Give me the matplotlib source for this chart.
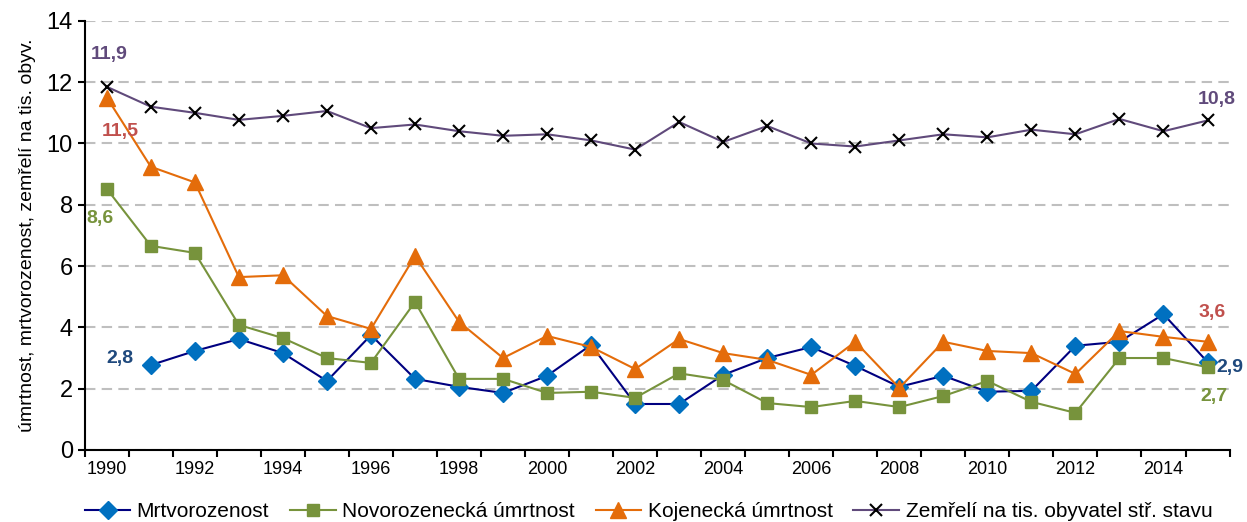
import matplotlib.pyplot as plt
from matplotlib.ticker import FixedLocator, NullFormatter

plt.rcParams['font.family'] = ['Liberation Sans', 'DejaVu Sans']

# Data
years = list(range(1990, 2016))
mrtvorozenost = [None, 2.77, 3.23, 3.62, 3.16, 2.25, 3.75, 2.32, 2.06, 1.86, 2.42, 3.43, 1.5,
                 1.5, 2.45, 3.0, 3.36, 2.74, 2.06, 2.42, 1.9, 1.93, 3.4, 3.53, 4.43, 2.87]
novorozenecka = [8.52, 6.66, 6.43, 4.08, 3.65, 3.0, 2.84, 4.83, 2.32, 2.32, 1.86, 1.9, 1.7,
                 2.5, 2.28, 1.53, 1.4, 1.6, 1.4, 1.76, 2.25, 1.57, 1.21, 3.0, 3.0, 2.7]
kojenecka = [11.5, 9.24, 8.73, 5.64, 5.7, 4.37, 3.95, 6.33, 4.18, 3.0, 3.72, 3.36, 2.64,
             3.62, 3.16, 2.94, 2.45, 3.53, 2.02, 3.53, 3.23, 3.16, 2.48, 3.88, 3.69, 3.53]
zemreli = [11.85, 11.2, 11.0, 10.77, 10.9, 11.06, 10.5, 10.62, 10.4, 10.25, 10.3, 10.1, 9.8,
           10.7, 10.05, 10.57, 10.0, 9.9, 10.1, 10.3, 10.2, 10.45, 10.3, 10.8, 10.4, 10.75]

x = list(range(len(years)))
mx = [i for i, v in zip(x, mrtvorozenost) if v is not None]
my = [v for v in mrtvorozenost if v is not None]

fig = plt.figure(figsize=(12.47, 5.22), dpi=100)
ax = fig.add_axes([0.068, 0.138, 0.918, 0.822])

ax.plot(mx, my, color='#000080', lw=1.5, marker='D', ms=9,
        mfc='#0070C0', mec='#0070C0', label='Mrtvorozenost', zorder=3)
ax.plot(x, novorozenecka, color='#77933C', lw=1.5, marker='s', ms=8,
        mfc='#77933C', mec='#77933C', label='Novorozenecká úmrtnost', zorder=3)
ax.plot(x, kojenecka, color='#E46C0A', lw=1.5, marker='^', ms=11,
        mfc='#E46C0A', mec='#E46C0A', label='Kojenecká úmrtnost', zorder=3)
ax.plot(x, zemreli, color='#604A7B', lw=1.5, marker='x', ms=9, mew=1.5,
        mec='black', label='Zemřelí na tis. obyvatel stř. stavu', zorder=3)

# value labels
lab = dict(fontsize=14, fontweight='bold', ha='center', va='center')
ax.text(0.05, 12.9, '11,9', color='#604A7B', **lab)
ax.text(0.3, 10.4, '11,5', color='#C0504D', **lab)
ax.text(-0.15, 7.55, '8,6', color='#77933C', **lab)
ax.text(0.3, 3.0, '2,8', color='#1F497D', **lab)
ax.text(25.2, 11.45, '10,8', color='#604A7B', **lab)
ax.text(25.1, 4.47, '3,6', color='#C0504D', **lab)
ax.text(25.5, 2.7, '2,9', color='#1F497D', **lab)
ax.text(25.15, 1.76, '2,7', color='#77933C', **lab)

ax.set_xlim(-0.5, len(years) - 0.5)
ax.set_ylim(0, 14)
ax.set_yticks(range(0, 15, 2))
ax.tick_params(axis='y', labelsize=17, length=5, width=1.5, direction='out')

ax.set_xticks(x[::2])
ax.set_xticklabels([str(y) for y in years[::2]])
ax.xaxis.set_minor_locator(FixedLocator([i - 0.5 for i in range(len(years) + 1)]))
ax.xaxis.set_minor_formatter(NullFormatter())
ax.tick_params(axis='x', which='major', length=0, labelsize=13, pad=8)
ax.tick_params(axis='x', which='minor', length=5, width=1.5, direction='out')

ax.set_ylabel('úmrtnost, mrtvorozenost, zemřelí na tis. obyv.', fontsize=14, labelpad=8)

ax.grid(axis='y', color='#BFBFBF', ls=(0, (5, 3)), lw=1.5)
ax.set_axisbelow(True)
for s in ['top', 'right']:
    ax.spines[s].set_visible(False)
ax.spines['left'].set_linewidth(1.5)
ax.spines['bottom'].set_linewidth(1.5)

fig.legend(loc='center', bbox_to_anchor=(0.52, 0.02), ncol=4, frameon=False,
           fontsize=15, handlelength=2.2, columnspacing=1.0, handletextpad=0.3)

fig.savefig('out.png', dpi=100)
